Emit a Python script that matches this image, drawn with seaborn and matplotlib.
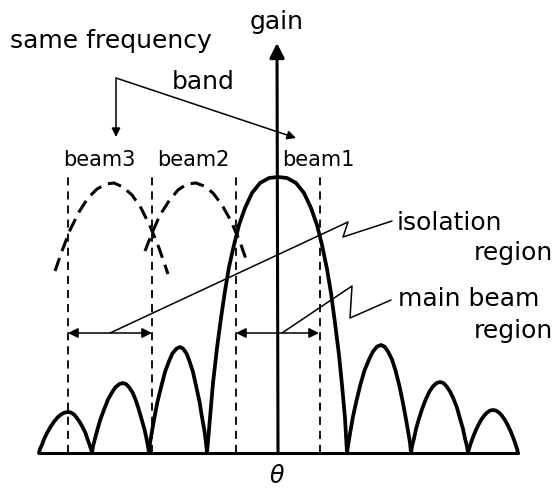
import pandas as pd
import seaborn as sns
import matplotlib.pyplot as plt

# antenna gain pattern
# theta = offset from the gain axis, gain = height above the baseline
main_theta = [-71, -68, -65, -61, -57, -53, -49, -44, -39, -33, -26, -18, -9, 0,
              9, 18, 26, 33, 39, 44, 49, 53, 57, 61, 64, 67, 69]
main_gain = [0, 35, 70, 105, 135, 162, 186, 208, 228, 245, 260, 270, 275, 276,
             275, 270, 260, 245, 228, 208, 184, 160, 130, 98, 68, 35, 0]

# side lobes, left of the axis (l1 outermost) and right of it (r3 outermost)
l1_theta = [-239, -238, -236, -234, -231, -227.5, -224, -220.5, -217, -213.5, -210,
            -207, -204, -201.5, -198.5, -195.5, -192.5, -190.5, -188.5, -187, -186]
l1_gain = [0, 3.9, 8.4, 13.9, 19.9, 26.1, 31.3, 35.5, 38.5, 40.4, 41,
           40.4, 38.5, 35.5, 31.3, 26.1, 19.9, 13.9, 8.4, 3.9, 0]
l2_theta = [-186, -185, -183, -180.5, -177.5, -173.5, -170, -166, -162.5, -158.5, -155,
            -152, -149, -145.5, -142.5, -139.5, -136.5, -133.5, -131.5, -130, -129]
l2_gain = [0, 6.7, 14.4, 23.7, 34, 44.6, 53.5, 60.6, 65.8, 69, 70,
           69, 65.8, 60.6, 53.5, 44.6, 34, 23.7, 14.4, 6.7, 0]
l3_theta = [-129, -128, -126, -123.5, -120.5, -116.5, -113, -109, -105.5, -101.5, -98,
            -95, -91.5, -88.5, -85, -82, -78.5, -76, -73.5, -72, -71]
l3_gain = [0, 10.1, 21.8, 35.8, 51.4, 67.5, 81, 91.8, 99.6, 104.4, 106,
           104.4, 99.6, 91.8, 81, 67.5, 51.4, 35.8, 21.8, 10.1, 0]
r1_theta = [69, 70.5, 72.5, 75, 78.5, 82.5, 86.5, 91, 95, 99, 103,
            106.5, 110, 114, 117.5, 121, 124.5, 127.5, 130, 132, 133]
r1_gain = [0, 10.3, 22.2, 36.5, 52.4, 68.8, 82.5, 93.5, 101.5, 106.4, 108,
           106.4, 101.5, 93.5, 82.5, 68.8, 52.4, 36.5, 22.2, 10.3, 0]
r2_theta = [133, 134, 136, 138, 141, 144.5, 148, 151.5, 155, 158.5, 162,
            165.5, 168.5, 172, 175.5, 179, 182, 185, 187, 189, 190]
r2_gain = [0, 6.7, 14.6, 24, 34.4, 45.2, 54.2, 61.5, 66.7, 69.9, 71,
           69.9, 66.7, 61.5, 54.2, 45.2, 34.4, 24, 14.6, 6.7, 0]
r3_theta = [190, 191, 192.5, 194.5, 197, 200, 203, 206, 209, 212, 215,
            218, 221, 224, 227, 230, 233, 235.5, 237.5, 239, 240]
r3_gain = [0, 4.1, 8.9, 14.5, 20.9, 27.4, 32.9, 37.2, 40.4, 42.4, 43,
           42.4, 40.4, 37.2, 32.9, 27.4, 20.9, 14.5, 8.9, 4.1, 0]

# neighbouring beams (dashed, top part only)
b2_theta = [-133, -126, -118, -109, -100, -91, -82, -74, -65, -56, -47, -38, -31]
b2_gain = [202, 220, 238, 252, 263, 269, 270, 267, 260, 248, 232, 211, 191]
b3_theta = [-223, -216, -208, -199, -190, -181, -172, -164, -155, -146, -137, -128, -119, -110]
b3_gain = [182, 202, 223, 241, 255, 264, 269, 270, 266, 258, 245, 227, 205, 179]

# beam region edges (dashed verticals) and their height
edges = [-210, -126, -42, 42]
edge_top = 276

beam_labels = ["beam3", "beam2", "beam1"]


def px(x, y):
    # layout helper: picture pixel -> data coords
    return x - 278, 453 - y


rows = []
for name, th, g in [("main", main_theta, main_gain), ("l1", l1_theta, l1_gain),
                    ("l2", l2_theta, l2_gain), ("l3", l3_theta, l3_gain),
                    ("r1", r1_theta, r1_gain), ("r2", r2_theta, r2_gain),
                    ("r3", r3_theta, r3_gain)]:
    for t, v in zip(th, g):
        rows.append((name, t, v))
df = pd.DataFrame(rows, columns=["lobe", "theta", "gain"])

rows = []
for name, th, g in [("b2", b2_theta, b2_gain), ("b3", b3_theta, b3_gain)]:
    for t, v in zip(th, g):
        rows.append((name, t, v))
dfb = pd.DataFrame(rows, columns=["lobe", "theta", "gain"])

sns.set_style("white")
plt.rcParams["font.family"] = ["DejaVu Sans"]
plt.rcParams["text.color"] = "black"

fig = plt.figure(figsize=(5.6, 4.9), dpi=100)
ax = fig.add_axes([0, 0, 1, 1])

sns.lineplot(data=df, x="theta", y="gain", units="lobe", estimator=None, sort=False,
             color="black", lw=2.7, ax=ax, legend=False, solid_joinstyle="round")
sns.lineplot(data=dfb, x="theta", y="gain", units="lobe", estimator=None, sort=False,
             color="black", lw=2.2, ax=ax, legend=False, linestyle=(0, (4.5, 2.4)))

ax.vlines(edges, 0, edge_top, colors="black", lw=1.3, linestyles=[(0, (4.5, 3.3))])

# baseline and gain axis
ax.plot([l1_theta[0], r3_theta[-1]], [0, 0], color="black", lw=2.2)
ax.annotate("", xy=px(277, 43), xytext=(0, 0),
            arrowprops=dict(arrowstyle="-|>", lw=2.2, color="black",
                            mutation_scale=22, shrinkA=0, shrinkB=0))

thin = dict(color="black", lw=1.1)
# same frequency band pointers
ax.annotate("", xy=px(116, 137), xytext=px(116, 78),
            arrowprops=dict(arrowstyle="-|>", mutation_scale=13, shrinkA=0, shrinkB=0, **thin))
ax.annotate("", xy=px(296, 138), xytext=px(116, 78),
            arrowprops=dict(arrowstyle="-|>", mutation_scale=13, shrinkA=0, shrinkB=0, **thin))

# region spans
ax.annotate("", xy=px(68, 333), xytext=px(152, 333),
            arrowprops=dict(arrowstyle="<|-|>", mutation_scale=15, shrinkA=0, shrinkB=0, **thin))
ax.annotate("", xy=px(236, 333), xytext=px(319, 333),
            arrowprops=dict(arrowstyle="<|-|>", mutation_scale=15, shrinkA=0, shrinkB=0, **thin))

# leader lines with zig-zag
iso = [px(110, 333), px(348, 222), px(343, 237), px(392, 221)]
mb = [px(282, 333), px(352, 286), px(350, 318), px(391, 300)]
ax.plot([p[0] for p in iso], [p[1] for p in iso], **thin)
ax.plot([p[0] for p in mb], [p[1] for p in mb], **thin)

fs = 18
ax.text(*px(10, 48), "same frequency", fontsize=fs, va="baseline")
ax.text(*px(172, 89), "band", fontsize=fs, va="baseline")
ax.text(*px(277, 29), "gain", fontsize=fs, va="baseline", ha="center")
for lab, x in zip(beam_labels, [63, 157, 282]):
    ax.text(*px(x, 166), lab, fontsize=15, va="baseline")
ax.text(*px(397, 230), "isolation", fontsize=fs, va="baseline")
ax.text(*px(553, 260), "region", fontsize=fs, va="baseline", ha="right")
ax.text(*px(398, 306), "main beam", fontsize=fs, va="baseline")
ax.text(*px(553, 338), "region", fontsize=fs, va="baseline", ha="right")
ax.text(*px(277, 476), "θ", fontsize=17, style="italic", ha="center", va="center")

ax.set_xlim(-278, 282)
ax.set_ylim(-37, 453)
ax.axis("off")

plt.savefig("out.png", dpi=100)
